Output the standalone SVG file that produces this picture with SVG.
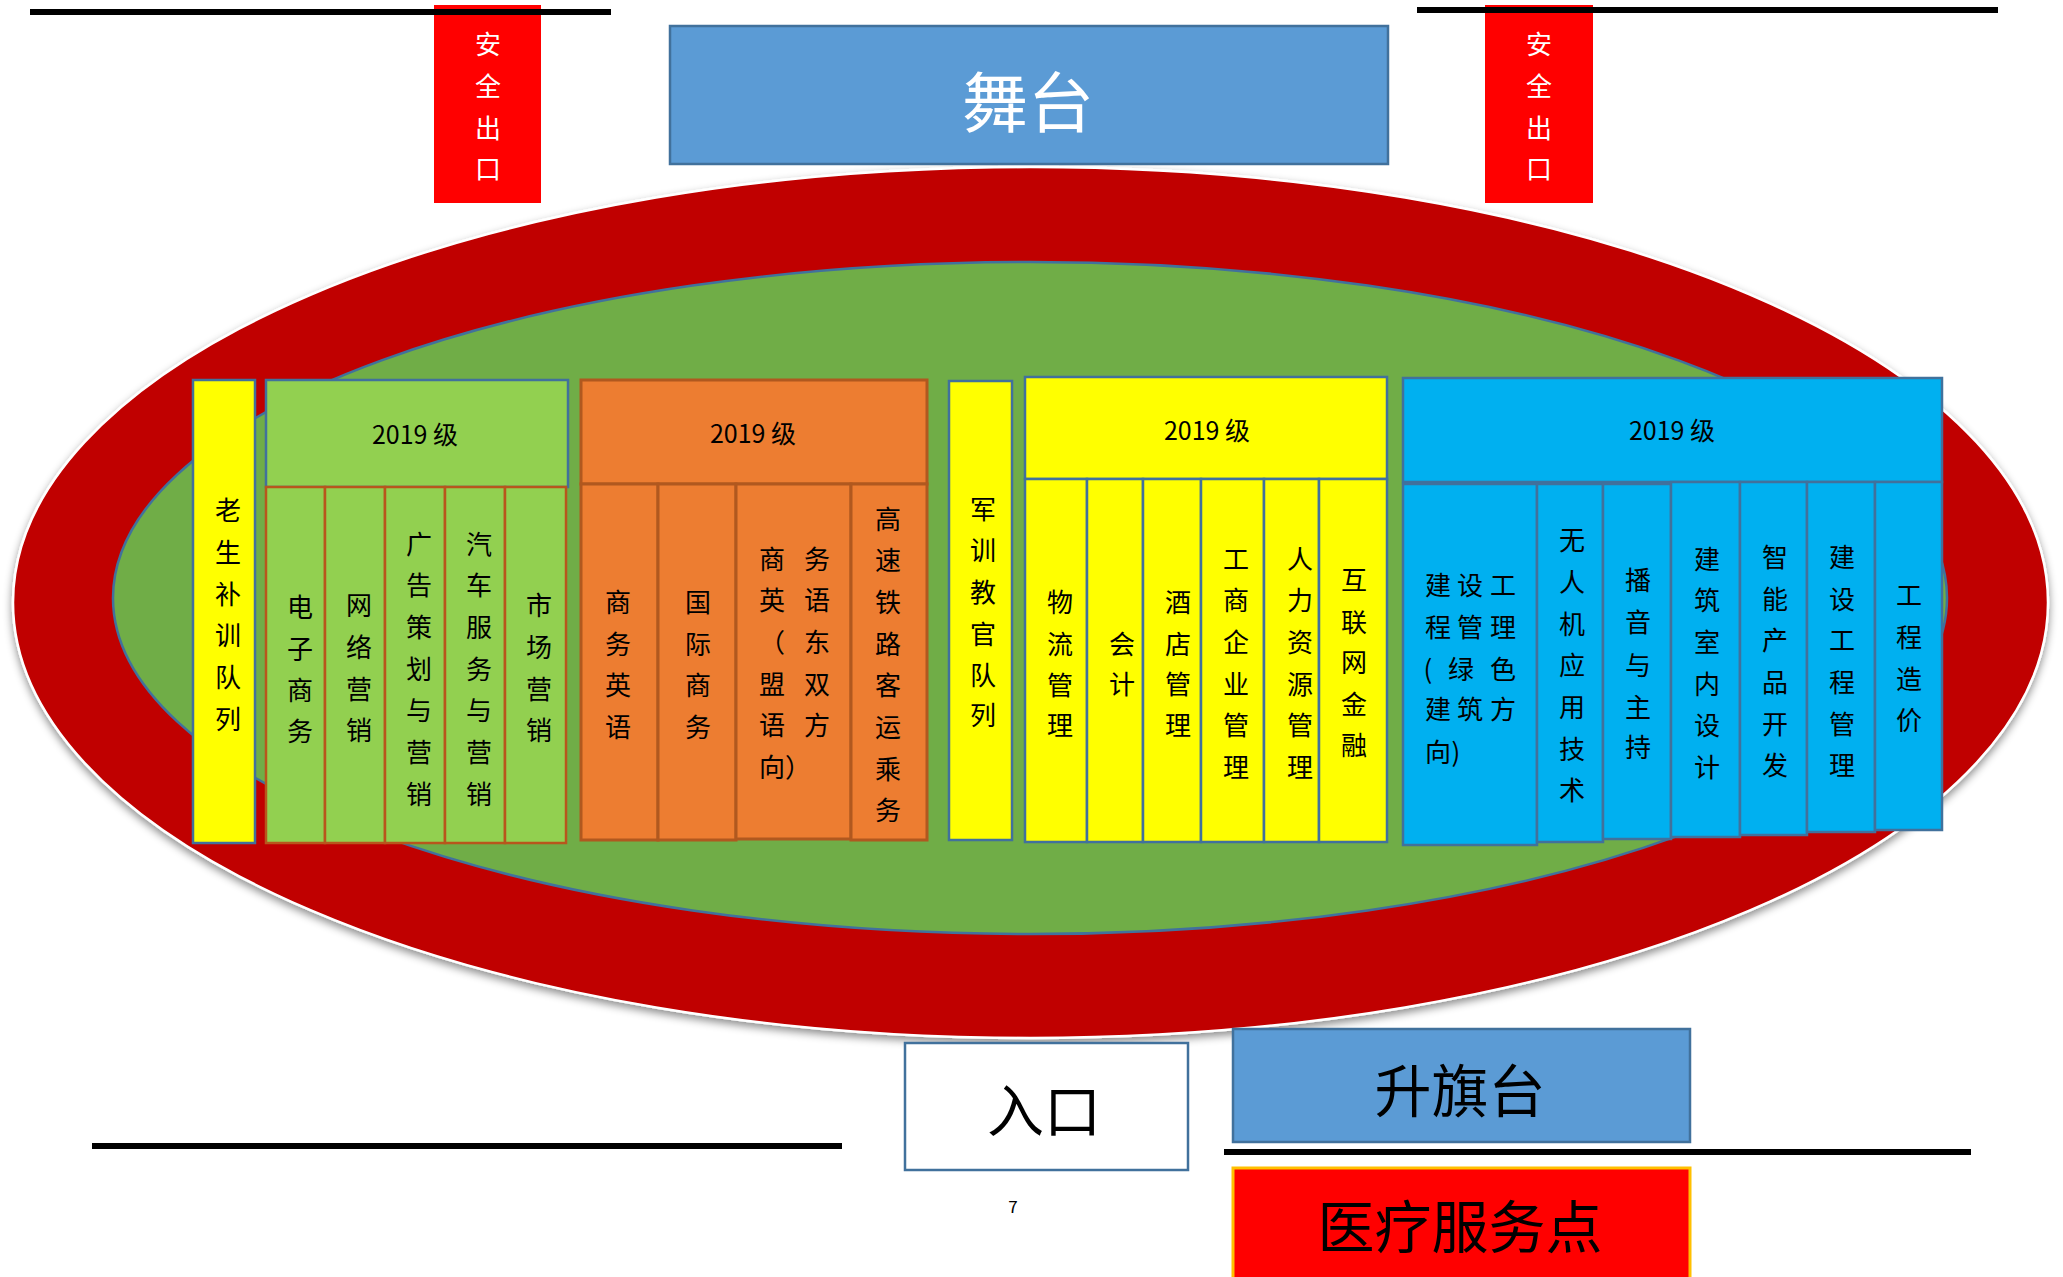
<svg xmlns="http://www.w3.org/2000/svg" width="2063" height="1277" viewBox="0 0 2063 1277">
<defs>
<filter id="sh" x="-5%" y="-5%" width="110%" height="115%">
<feGaussianBlur in="SourceAlpha" stdDeviation="4"/>
<feOffset dx="0" dy="4" result="b"/>
<feFlood flood-color="#000" flood-opacity="0.45"/>
<feComposite in2="b" operator="in"/>
<feMerge><feMergeNode/><feMergeNode in="SourceGraphic"/></feMerge>
</filter>
</defs>
<style>
text{font-family:"Noto Sans CJK SC","Noto Sans",sans-serif;}
.c{font-size:26px;fill:#000;text-anchor:middle;dominant-baseline:central;}
.hd{font-size:25px;fill:#000;text-anchor:middle;dominant-baseline:central;}
.ex{font-size:26px;fill:#fff;text-anchor:middle;dominant-baseline:central;}
.big{font-size:57px;fill:#000;text-anchor:middle;dominant-baseline:central;}
.wall{stroke:#000;stroke-width:6;fill:none;}
.yb{fill:#FFFF00;stroke:#41719C;stroke-width:2.5;}
.gh{fill:#92D050;stroke:#41719C;stroke-width:2.5;}
.gc{fill:#92D050;stroke:#B8561C;stroke-width:2.5;}
.oc{fill:#ED7D31;stroke:#B0581F;stroke-width:3;}
.yc{fill:#FFFF00;stroke:#41719C;stroke-width:2.5;}
.bc{fill:#00B0F0;stroke:#41719C;stroke-width:2.5;}
.exit{fill:#FF0000;}
</style>

<g id="field">
<ellipse cx="1030.5" cy="602.5" rx="1017.5" ry="435.5" fill="#C00000" stroke="#fff" stroke-width="2.5" filter="url(#sh)"/>
<ellipse cx="1030" cy="598" rx="917" ry="336" fill="#70AD47" stroke="#41719C" stroke-width="2.5"/>
</g>

<g id="exit-left">
<rect class="exit" x="434" y="5" width="107" height="198"/>
<text class="ex"><tspan x="488" y="42">安</tspan><tspan x="488" y="84">全</tspan><tspan x="488" y="126">出</tspan><tspan x="488" y="167">口</tspan></text>
</g>
<g id="exit-right">
<rect class="exit" x="1485" y="5" width="108" height="198"/>
<text class="ex"><tspan x="1539" y="42">安</tspan><tspan x="1539" y="84">全</tspan><tspan x="1539" y="126">出</tspan><tspan x="1539" y="167">口</tspan></text>
</g>

<g id="walls">
<line class="wall" x1="30" y1="12" x2="611" y2="12"/>
<line class="wall" x1="1417" y1="10" x2="1998" y2="10"/>
<line class="wall" x1="92" y1="1146" x2="842" y2="1146"/>
<line class="wall" x1="1224" y1="1152" x2="1971" y2="1152"/>
</g>

<g id="stage">
<rect x="670" y="26" width="718" height="138" fill="#5B9BD5" stroke="#41719C" stroke-width="2.5"/>
<text x="1028" y="98" font-size="66" fill="#fff" text-anchor="middle" dominant-baseline="central">舞台</text>
</g>

<g id="old-students">
<rect class="yb" x="193" y="380" width="62" height="463"/>
<text class="c"><tspan x="228" y="508">老</tspan><tspan x="228" y="550">生</tspan><tspan x="228" y="592">补</tspan><tspan x="228" y="633">训</tspan><tspan x="228" y="675">队</tspan><tspan x="228" y="717">列</tspan></text>
</g>

<g id="group-green">
<rect class="gh" x="266" y="380" width="302" height="107"/>
<text class="hd" x="415" y="433">2019 级</text>
<rect class="gc" x="266" y="487" width="59" height="356"/>
<rect class="gc" x="325" y="487" width="60" height="356"/>
<rect class="gc" x="385" y="487" width="60" height="356"/>
<rect class="gc" x="445" y="487" width="60" height="356"/>
<rect class="gc" x="505" y="487" width="61" height="356"/>
<text class="c"><tspan x="300" y="605">电</tspan><tspan x="300" y="647">子</tspan><tspan x="300" y="688">商</tspan><tspan x="300" y="729">务</tspan></text>
<text class="c"><tspan x="359" y="603">网</tspan><tspan x="359" y="645">络</tspan><tspan x="359" y="687">营</tspan><tspan x="359" y="728">销</tspan></text>
<text class="c"><tspan x="419" y="542">广</tspan><tspan x="419" y="583">告</tspan><tspan x="419" y="625">策</tspan><tspan x="419" y="667">划</tspan><tspan x="419" y="708">与</tspan><tspan x="419" y="750">营</tspan><tspan x="419" y="792">销</tspan></text>
<text class="c"><tspan x="479" y="542">汽</tspan><tspan x="479" y="583">车</tspan><tspan x="479" y="625">服</tspan><tspan x="479" y="667">务</tspan><tspan x="479" y="708">与</tspan><tspan x="479" y="750">营</tspan><tspan x="479" y="792">销</tspan></text>
<text class="c"><tspan x="539" y="603">市</tspan><tspan x="539" y="645">场</tspan><tspan x="539" y="687">营</tspan><tspan x="539" y="728">销</tspan></text>
</g>

<g id="group-orange">
<rect class="oc" x="581" y="380" width="346" height="104"/>
<text class="hd" x="753" y="432">2019 级</text>
<rect class="oc" x="581" y="484" width="77" height="356"/>
<rect class="oc" x="658" y="484" width="78" height="356"/>
<rect class="oc" x="736" y="484" width="115" height="355"/>
<rect class="oc" x="851" y="484" width="76" height="356"/>
<text class="c"><tspan x="618" y="600">商</tspan><tspan x="618" y="642">务</tspan><tspan x="618" y="683">英</tspan><tspan x="618" y="725">语</tspan></text>
<text class="c"><tspan x="698" y="600">国</tspan><tspan x="698" y="642">际</tspan><tspan x="698" y="683">商</tspan><tspan x="698" y="725">务</tspan></text>
<text class="c"><tspan x="772" y="557">商</tspan><tspan x="817" y="557">务</tspan><tspan x="772" y="598">英</tspan><tspan x="817" y="598">语</tspan><tspan x="772" y="640">（</tspan><tspan x="817" y="640">东</tspan><tspan x="772" y="682">盟</tspan><tspan x="817" y="682">双</tspan><tspan x="772" y="723">语</tspan><tspan x="817" y="723">方</tspan><tspan x="772" y="765">向</tspan><tspan x="798" y="765">）</tspan></text>
<text class="c"><tspan x="888" y="517">高</tspan><tspan x="888" y="558">速</tspan><tspan x="888" y="600">铁</tspan><tspan x="888" y="642">路</tspan><tspan x="888" y="683">客</tspan><tspan x="888" y="725">运</tspan><tspan x="888" y="767">乘</tspan><tspan x="888" y="808">务</tspan></text>
</g>

<g id="military">
<rect class="yb" x="949" y="381" width="63" height="459"/>
<text class="c"><tspan x="983" y="507">军</tspan><tspan x="983" y="548">训</tspan><tspan x="983" y="590">教</tspan><tspan x="983" y="632">官</tspan><tspan x="983" y="673">队</tspan><tspan x="983" y="713">列</tspan></text>
</g>

<g id="group-yellow">
<rect class="yc" x="1025" y="377" width="362" height="102"/>
<text class="hd" x="1207" y="429">2019 级</text>
<rect class="yc" x="1025" y="479" width="62" height="363"/>
<rect class="yc" x="1087" y="479" width="56" height="363"/>
<rect class="yc" x="1143" y="479" width="58" height="363"/>
<rect class="yc" x="1201" y="479" width="63" height="363"/>
<rect class="yc" x="1264" y="479" width="55" height="363"/>
<rect class="yc" x="1319" y="479" width="68" height="363"/>
<text class="c"><tspan x="1060" y="600">物</tspan><tspan x="1060" y="642">流</tspan><tspan x="1060" y="683">管</tspan><tspan x="1060" y="723">理</tspan></text>
<text class="c"><tspan x="1122" y="642">会</tspan><tspan x="1122" y="682">计</tspan></text>
<text class="c"><tspan x="1178" y="600">酒</tspan><tspan x="1178" y="642">店</tspan><tspan x="1178" y="682">管</tspan><tspan x="1178" y="723">理</tspan></text>
<text class="c"><tspan x="1236" y="557">工</tspan><tspan x="1236" y="598">商</tspan><tspan x="1236" y="640">企</tspan><tspan x="1236" y="682">业</tspan><tspan x="1236" y="723">管</tspan><tspan x="1236" y="765">理</tspan></text>
<text class="c"><tspan x="1300" y="557">人</tspan><tspan x="1300" y="598">力</tspan><tspan x="1300" y="640">资</tspan><tspan x="1300" y="682">源</tspan><tspan x="1300" y="723">管</tspan><tspan x="1300" y="765">理</tspan></text>
<text class="c"><tspan x="1354" y="578">互</tspan><tspan x="1354" y="620">联</tspan><tspan x="1354" y="660">网</tspan><tspan x="1354" y="702">金</tspan><tspan x="1354" y="743">融</tspan></text>
</g>

<g id="group-blue">
<rect class="bc" x="1403" y="378" width="539" height="104"/>
<text class="hd" x="1672" y="429">2019 级</text>
<rect class="bc" x="1403" y="484" width="134" height="361"/>
<rect class="bc" x="1537" y="484" width="66" height="358"/>
<rect class="bc" x="1603" y="484" width="68" height="355"/>
<rect class="bc" x="1671" y="482" width="69" height="355"/>
<rect class="bc" x="1740" y="482" width="67" height="353"/>
<rect class="bc" x="1807" y="482" width="68" height="350"/>
<rect class="bc" x="1875" y="482" width="67" height="348"/>
<text class="c"><tspan x="1438" y="583">建</tspan><tspan x="1470" y="583">设</tspan><tspan x="1503" y="583">工</tspan><tspan x="1438" y="625">程</tspan><tspan x="1470" y="625">管</tspan><tspan x="1503" y="625">理</tspan><tspan x="1428" y="667">(</tspan><tspan x="1461" y="667">绿</tspan><tspan x="1503" y="667">色</tspan><tspan x="1438" y="707">建</tspan><tspan x="1470" y="707">筑</tspan><tspan x="1503" y="707">方</tspan><tspan x="1438" y="750">向</tspan><tspan x="1456" y="750">)</tspan></text>
<text class="c"><tspan x="1572" y="538">无</tspan><tspan x="1572" y="580">人</tspan><tspan x="1572" y="622">机</tspan><tspan x="1572" y="663">应</tspan><tspan x="1572" y="705">用</tspan><tspan x="1572" y="747">技</tspan><tspan x="1572" y="788">术</tspan></text>
<text class="c"><tspan x="1638" y="578">播</tspan><tspan x="1638" y="620">音</tspan><tspan x="1638" y="663">与</tspan><tspan x="1638" y="705">主</tspan><tspan x="1638" y="745">持</tspan></text>
<text class="c"><tspan x="1707" y="557">建</tspan><tspan x="1707" y="598">筑</tspan><tspan x="1707" y="640">室</tspan><tspan x="1707" y="682">内</tspan><tspan x="1707" y="723">设</tspan><tspan x="1707" y="765">计</tspan></text>
<text class="c"><tspan x="1775" y="555">智</tspan><tspan x="1775" y="597">能</tspan><tspan x="1775" y="638">产</tspan><tspan x="1775" y="680">品</tspan><tspan x="1775" y="722">开</tspan><tspan x="1775" y="763">发</tspan></text>
<text class="c"><tspan x="1842" y="555">建</tspan><tspan x="1842" y="597">设</tspan><tspan x="1842" y="638">工</tspan><tspan x="1842" y="680">程</tspan><tspan x="1842" y="722">管</tspan><tspan x="1842" y="763">理</tspan></text>
<text class="c"><tspan x="1909" y="593">工</tspan><tspan x="1909" y="635">程</tspan><tspan x="1909" y="677">造</tspan><tspan x="1909" y="718">价</tspan></text>
</g>

<g id="entrance">
<rect x="905" y="1043" width="283" height="127" fill="#fff" stroke="#41719C" stroke-width="2.5"/>
<text class="big" x="1044" y="1107" font-size="58">入口</text>
</g>

<g id="flag-platform">
<rect x="1233" y="1029" width="457" height="113" fill="#5B9BD5" stroke="#41719C" stroke-width="2.5"/>
<text class="big" x="1460" y="1087">升旗台</text>
</g>

<g id="medical">
<rect x="1233" y="1168" width="457" height="122" fill="#FF0000" stroke="#FFC000" stroke-width="3"/>
<text class="big" x="1460" y="1223">医疗服务点</text>
</g>

<g id="page-number">
<text x="1013" y="1205" font-size="17" fill="#000" text-anchor="middle" dominant-baseline="central">7</text>
</g>

<g id="connectors"></g>
</svg>
